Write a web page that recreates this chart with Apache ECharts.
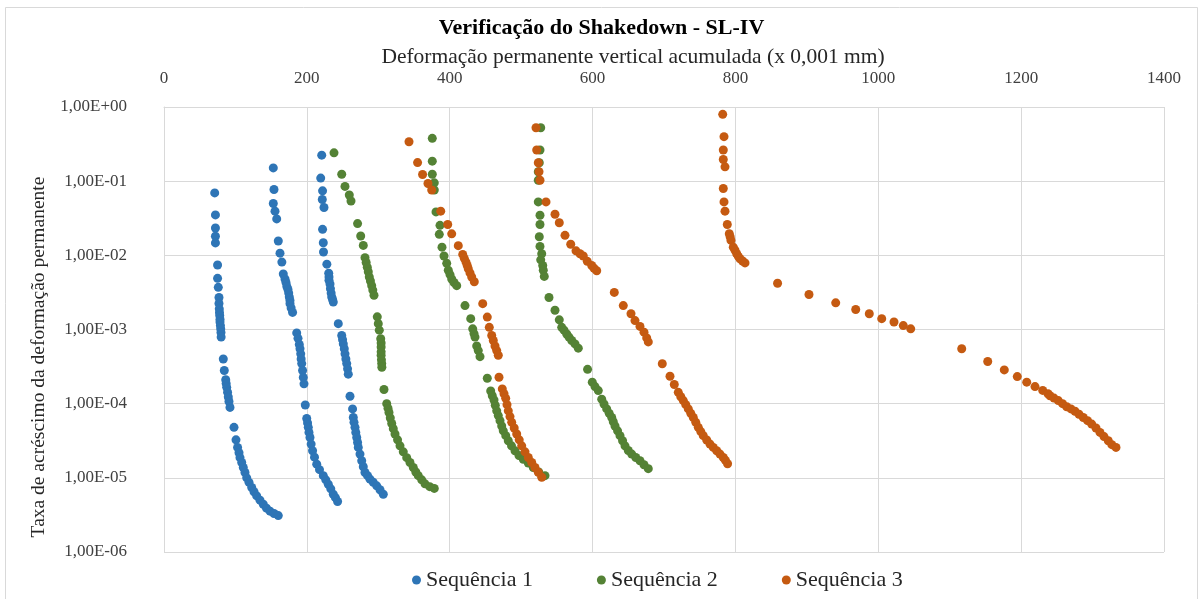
<!DOCTYPE html>
<html>
<head>
<meta charset="utf-8">
<script src="https://cdn.jsdelivr.net/npm/echarts@6/dist/echarts.min.js"></script>
<style>
html,body{margin:0;padding:0;background:#fff;}
#c{width:1203px;height:599px;}
</style>
</head>
<body>
<div id="c"></div>
<script>
const titleText = 'Verificação do Shakedown - SL-IV';
const xName = 'Deformação permanente vertical acumulada (x 0,001 mm)';
const yName = 'Taxa de acréscimo da deformação permanente';
const seriesNames = ['Sequência 1', 'Sequência 2', 'Sequência 3'];
const xTicks = [0, 200, 400, 600, 800, 1000, 1200, 1400];
const yTicks = [1e-6, 1e-5, 1e-4, 1e-3, 1e-2, 1e-1, 1];

// Sequência 1 – three loading blocks
const seq1a = [[71,0.0695],[72,0.0351],[72,0.0234],[72,0.0181],[72,0.0147],[75,0.0074],[75,0.0049],[76,0.0037],[77,0.0027],[77,0.00224],[77.4,0.0019],[77.7,0.0017],[78,0.00155],[78.4,0.00138],[78.4,0.00126],[79,0.00113],[79.4,0.00102],[79.8,0.00091],[80,0.00079],[83,0.0004],[84.4,0.00028],[86.4,0.00021],[87,0.000187],[87.8,0.000166],[89,0.000143],[90,0.000123],[91,0.000107],[92.4,8.9e-5],[98,4.8e-5],[100.8,3.25e-5],[103,2.57e-5],[105,2.18e-5],[106.4,1.87e-5],[108.8,1.61e-5],[111,1.38e-5],[113.4,1.18e-5],[115.8,1.0e-5],[119,8.7e-6],[122.8,7.4e-6],[126,6.5e-6],[129.8,5.7e-6],[134.4,5.0e-6],[139,4.4e-6],[143.5,3.9e-6],[148.4,3.55e-6],[154,3.3e-6],[160,3.1e-6]];
const seq1b = [[153,0.151],[154,0.0773],[153,0.050],[155.4,0.0394],[157.8,0.031],[160,0.0156],[162.4,0.0107],[165,0.0081],[167,0.0056],[169.4,0.0048],[170.8,0.0043],[172,0.0038],[173.6,0.00346],[174.6,0.0031],[175.4,0.00274],[176.4,0.00246],[176.4,0.00223],[178,0.00195],[180,0.0017],[185.8,0.0009],[187.6,0.00076],[189.4,0.00063],[190.4,0.00055],[191.4,0.00047],[192,0.0004],[192.8,0.000347],[194,0.00028],[195,0.000226],[196,0.000185],[197.8,9.6e-5],[199.8,6.3e-5],[201,5.5e-5],[202,4.8e-5],[203,4.1e-5],[204.4,3.5e-5],[206,2.85e-5],[208,2.32e-5],[210.7,1.9e-5],[213.8,1.53e-5],[217.7,1.29e-5],[223,1.07e-5],[226.5,9.4e-6],[230,8.2e-6],[233.5,7.1e-6],[237,6.0e-6],[240,5.4e-6],[243,4.8e-6]];
const seq1c = [[220.8,0.224],[219.4,0.11],[222,0.074],[221.6,0.0566],[224,0.0441],[222,0.0224],[223,0.0148],[223.3,0.0111],[228,0.0076],[230.6,0.00575],[231,0.0051],[231,0.0046],[232.4,0.0041],[233,0.00355],[234,0.0031],[234.8,0.00274],[236,0.00254],[237,0.00234],[244,0.0012],[248.8,0.00083],[250,0.00073],[251,0.00064],[252.4,0.00055],[253.4,0.00047],[254.6,0.0004],[255.8,0.000347],[257,0.000295],[258,0.00025],[260.4,0.000126],[264,8.5e-5],[265,6.5e-5],[266,5.6e-5],[267.4,4.8e-5],[268.5,4.1e-5],[269.8,3.5e-5],[271,3.0e-5],[272,2.57e-5],[274.4,2.09e-5],[276.8,1.7e-5],[279,1.41e-5],[281.4,1.18e-5],[285,1.07e-5],[288.4,9.6e-6],[293,8.7e-6],[297.8,7.8e-6],[302.4,6.9e-6],[307,6.0e-6]];

// Sequência 2 – three loading blocks
const seq2a = [[238,0.241],[248.8,0.124],[253.4,0.085],[259.4,0.065],[261.8,0.054],[271,0.0268],[275.4,0.0182],[279,0.0136],[281.4,0.0093],[283,0.008],[284.6,0.0069],[286,0.006],[287.4,0.0051],[289,0.0045],[290.8,0.0039],[292.3,0.0034],[294,0.0029],[298.6,0.00148],[300,0.0012],[301.4,0.00098],[303.4,0.00075],[304,0.00066],[304,0.00058],[304,0.0005],[304,0.00045],[304.4,0.00039],[304.8,0.000347],[305,0.00031],[308,0.000155],[311.8,1.0e-4],[313.6,8.7e-5],[315,7.6e-5],[316.8,6.4e-5],[318.8,5.4e-5],[321,4.6e-5],[323.4,3.9e-5],[327,3.25e-5],[330.4,2.7e-5],[335,2.24e-5],[339.8,1.87e-5],[344.4,1.61e-5],[349,1.38e-5],[352.5,1.2e-5],[356,1.07e-5],[360.8,9.4e-6],[365.4,8.3e-6],[372,7.6e-6],[378.4,7.2e-6]];
const seq2b = [[375.6,0.378],[375.6,0.186],[375.6,0.124],[378.4,0.095],[378.4,0.076],[380.8,0.0385],[386.4,0.0254],[385.4,0.0192],[389.2,0.0129],[392,0.0098],[395.8,0.0078],[398,0.0063],[400.4,0.0055],[402.8,0.0048],[406,0.0043],[409.8,0.0039],[421.4,0.0021],[429.4,0.0014],[432.2,0.00102],[434,0.00088],[435.4,0.00079],[437.8,0.0006],[440,0.00052],[442.4,0.00043],[452.6,0.00022],[457.4,0.000148],[459.6,0.000128],[462,0.000112],[463.8,9.5e-5],[465.8,8.0e-5],[468,6.9e-5],[470.4,5.9e-5],[472.8,5.0e-5],[475,4.3e-5],[478.5,3.7e-5],[482,3.16e-5],[486.5,2.7e-5],[491.4,2.32e-5],[497,2.0e-5],[503,1.78e-5],[510,1.58e-5],[517,1.38e-5],[524.6,1.2e-5],[533.4,1.07e-5]];
const seq2c = [[527.4,0.525],[526.4,0.263],[525.4,0.177],[524,0.134],[524,0.103],[524,0.0525],[526.4,0.0347],[526.4,0.026],[525.4,0.0178],[526.4,0.0132],[528.8,0.0105],[527.4,0.0087],[530.2,0.0073],[531,0.0063],[532.4,0.0052],[539,0.0027],[547.4,0.00182],[553.4,0.00135],[556.8,0.00107],[560,0.00098],[563.8,0.00087],[567,0.00079],[570.8,0.00071],[575.4,0.00064],[580,0.00056],[593,0.00029],[599.6,0.000195],[603.4,0.00017],[608,0.00015],[612.8,0.000115],[616,9.9e-5],[619.8,8.5e-5],[623.3,7.4e-5],[626.8,6.5e-5],[629,5.7e-5],[631.4,5.0e-5],[635,4.3e-5],[638.4,3.7e-5],[642,3.16e-5],[645.4,2.7e-5],[650,2.34e-5],[654.8,2.09e-5],[660.5,1.88e-5],[666.4,1.7e-5],[672,1.5e-5],[678,1.33e-5]];

// Sequência 3 – three loading blocks
const seq3a = [[343,0.34],[355,0.178],[362,0.123],[369.6,0.093],[374.8,0.076],[387.4,0.0394],[397.2,0.026],[402.8,0.0195],[412,0.0135],[418.2,0.0103],[420.4,0.0091],[422.8,0.0081],[424.5,0.0073],[426,0.0066],[428.4,0.0058],[430.8,0.0051],[434.4,0.0044],[446.2,0.00223],[452.6,0.00147],[455.4,0.00107],[458.8,0.00083],[461,0.00071],[463.4,0.0006],[465.8,0.00052],[468,0.00045],[469,0.000227],[473.6,0.000158],[476,0.000136],[478.4,0.000118],[480.2,9.7e-5],[482,8.0e-5],[484.4,6.7e-5],[486.8,5.6e-5],[490.3,4.7e-5],[493.8,3.9e-5],[497.3,3.25e-5],[500.8,2.7e-5],[505.4,2.24e-5],[510,1.88e-5],[514.8,1.61e-5],[519.4,1.38e-5],[524,1.19e-5],[528.8,1.02e-5]];
const seq3b = [[520.8,0.525],[521.8,0.263],[524,0.177],[525,0.134],[526.4,0.103],[534.8,0.0525],[547.4,0.0358],[553.4,0.0275],[561.4,0.0186],[569.4,0.0141],[576.8,0.0115],[582.4,0.0105],[587,0.0098],[592.6,0.0083],[598.8,0.0073],[602,0.0067],[605.8,0.0062],[630.4,0.00316],[643,0.0021],[653.8,0.00163],[659.4,0.00132],[666.4,0.0011],[672,0.00092],[675.8,0.00077],[678,0.00068],[697.6,0.000345],[708.4,0.000234],[714.4,0.000181],[720,0.000142],[723.5,0.000124],[727,0.00011],[730.5,9.7e-5],[734,8.5e-5],[737.5,7.4e-5],[741,6.5e-5],[744.5,5.6e-5],[748,4.8e-5],[751.5,4.2e-5],[755,3.7e-5],[759.8,3.24e-5],[764.4,2.85e-5],[769,2.57e-5],[773.8,2.32e-5],[778.4,2.09e-5],[783,1.88e-5],[786,1.72e-5],[789,1.55e-5]];
const seq3c = [[782.2,0.796],[784,0.398],[783,0.263],[783,0.196],[785.4,0.156],[783,0.0796],[784,0.0525],[785.4,0.0394],[788.6,0.026],[791.4,0.0196],[792.6,0.0178],[793.8,0.0159],[797,0.0129],[799.4,0.0117],[801.8,0.0105],[804,0.0097],[806.4,0.009],[810,0.0084],[813.4,0.0079],[859,0.0042],[903,0.00296],[940.4,0.00229],[968.4,0.00186],[987.4,0.00163],[1004.8,0.0014],[1022,0.00126],[1035,0.00113],[1045.4,0.00102],[1116.8,0.00055],[1153.2,0.00037],[1176.4,0.000285],[1194.6,0.000232],[1207.8,0.000195],[1219.4,0.00017],[1230.2,0.000151],[1237.6,0.000136],[1240.4,0.000128],[1246,0.000119],[1252,0.00011],[1258,1.0e-4],[1263.8,9.1e-5],[1269.8,8.5e-5],[1275.4,7.9e-5],[1281,7.2e-5],[1287,6.5e-5],[1293,5.9e-5],[1298.8,5.3e-5],[1304.8,4.7e-5],[1310.4,4.1e-5],[1316,3.6e-5],[1322,3.16e-5],[1327,2.8e-5],[1332.8,2.57e-5]];

const colors = ['#2E75B6', '#548235', '#C55A11'];
const font = '"Liberation Serif", "Times New Roman", serif';

function fmtY(v) {
  const e = Math.round(Math.log10(v));
  return '1,00E' + (e < 0 ? '-' : '+') + String(Math.abs(e)).padStart(2, '0');
}

const chart = echarts.init(document.getElementById('c'), null, {renderer: 'canvas'});
chart.setOption({
  animation: false,
  backgroundColor: '#fff',
  color: colors,
  title: {
    text: titleText, left: 'center', top: 12,
    textStyle: {fontFamily: font, fontSize: 22, fontWeight: 'bold', color: '#000'}
  },
  legend: {
    data: seriesNames, bottom: 3, left: 407, icon: 'circle',
    itemWidth: 9, itemHeight: 9, itemGap: 64,
    textStyle: {fontFamily: font, fontSize: 22, color: '#262626'}
  },
  grid: {left: 164, right: 39, top: 107, bottom: 47},
  xAxis: {
    type: 'value', position: 'top', min: xTicks[0], max: xTicks[xTicks.length - 1], interval: 200,
    axisLine: {show: true, lineStyle: {color: '#d9d9d9'}},
    axisTick: {show: false},
    axisLabel: {fontFamily: font, fontSize: 17, color: '#404040', margin: 20, formatter: v => String(v)},
    splitLine: {show: true, lineStyle: {color: '#d9d9d9'}}
  },
  yAxis: {
    type: 'log', logBase: 10, min: yTicks[0], max: yTicks[yTicks.length - 1],
    axisLine: {show: true, lineStyle: {color: '#d9d9d9'}},
    axisTick: {show: false},
    axisLabel: {fontFamily: font, fontSize: 17, color: '#404040', margin: 37, formatter: fmtY},
    splitLine: {show: true, lineStyle: {color: '#d9d9d9'}}
  },
  graphic: [{
    type: 'rect', shape: {x: 5.5, y: 7.5, width: 1192, height: 620},
    style: {fill: 'none', stroke: '#d9d9d9', lineWidth: 1}, silent: true, z: -1
  }, {
    type: 'text', x: 633, y: 57, silent: true,
    style: {text: xName, font: '21.5px ' + font, fill: '#262626', align: 'center', verticalAlign: 'middle'}
  }, {
    type: 'text', x: 39, y: 357, rotation: Math.PI / 2, silent: true,
    style: {text: yName, font: '19.5px ' + font, fill: '#262626', align: 'center', verticalAlign: 'middle'}
  }],
  series: [
    {name: seriesNames[0], type: 'scatter', symbolSize: 9, itemStyle: {opacity: 1}, data: [...seq1a, ...seq1b, ...seq1c]},
    {name: seriesNames[1], type: 'scatter', symbolSize: 9, itemStyle: {opacity: 1}, data: [...seq2a, ...seq2b, ...seq2c]},
    {name: seriesNames[2], type: 'scatter', symbolSize: 9, itemStyle: {opacity: 1}, data: [...seq3a, ...seq3b, ...seq3c]}
  ]
});
</script>
</body>
</html>
